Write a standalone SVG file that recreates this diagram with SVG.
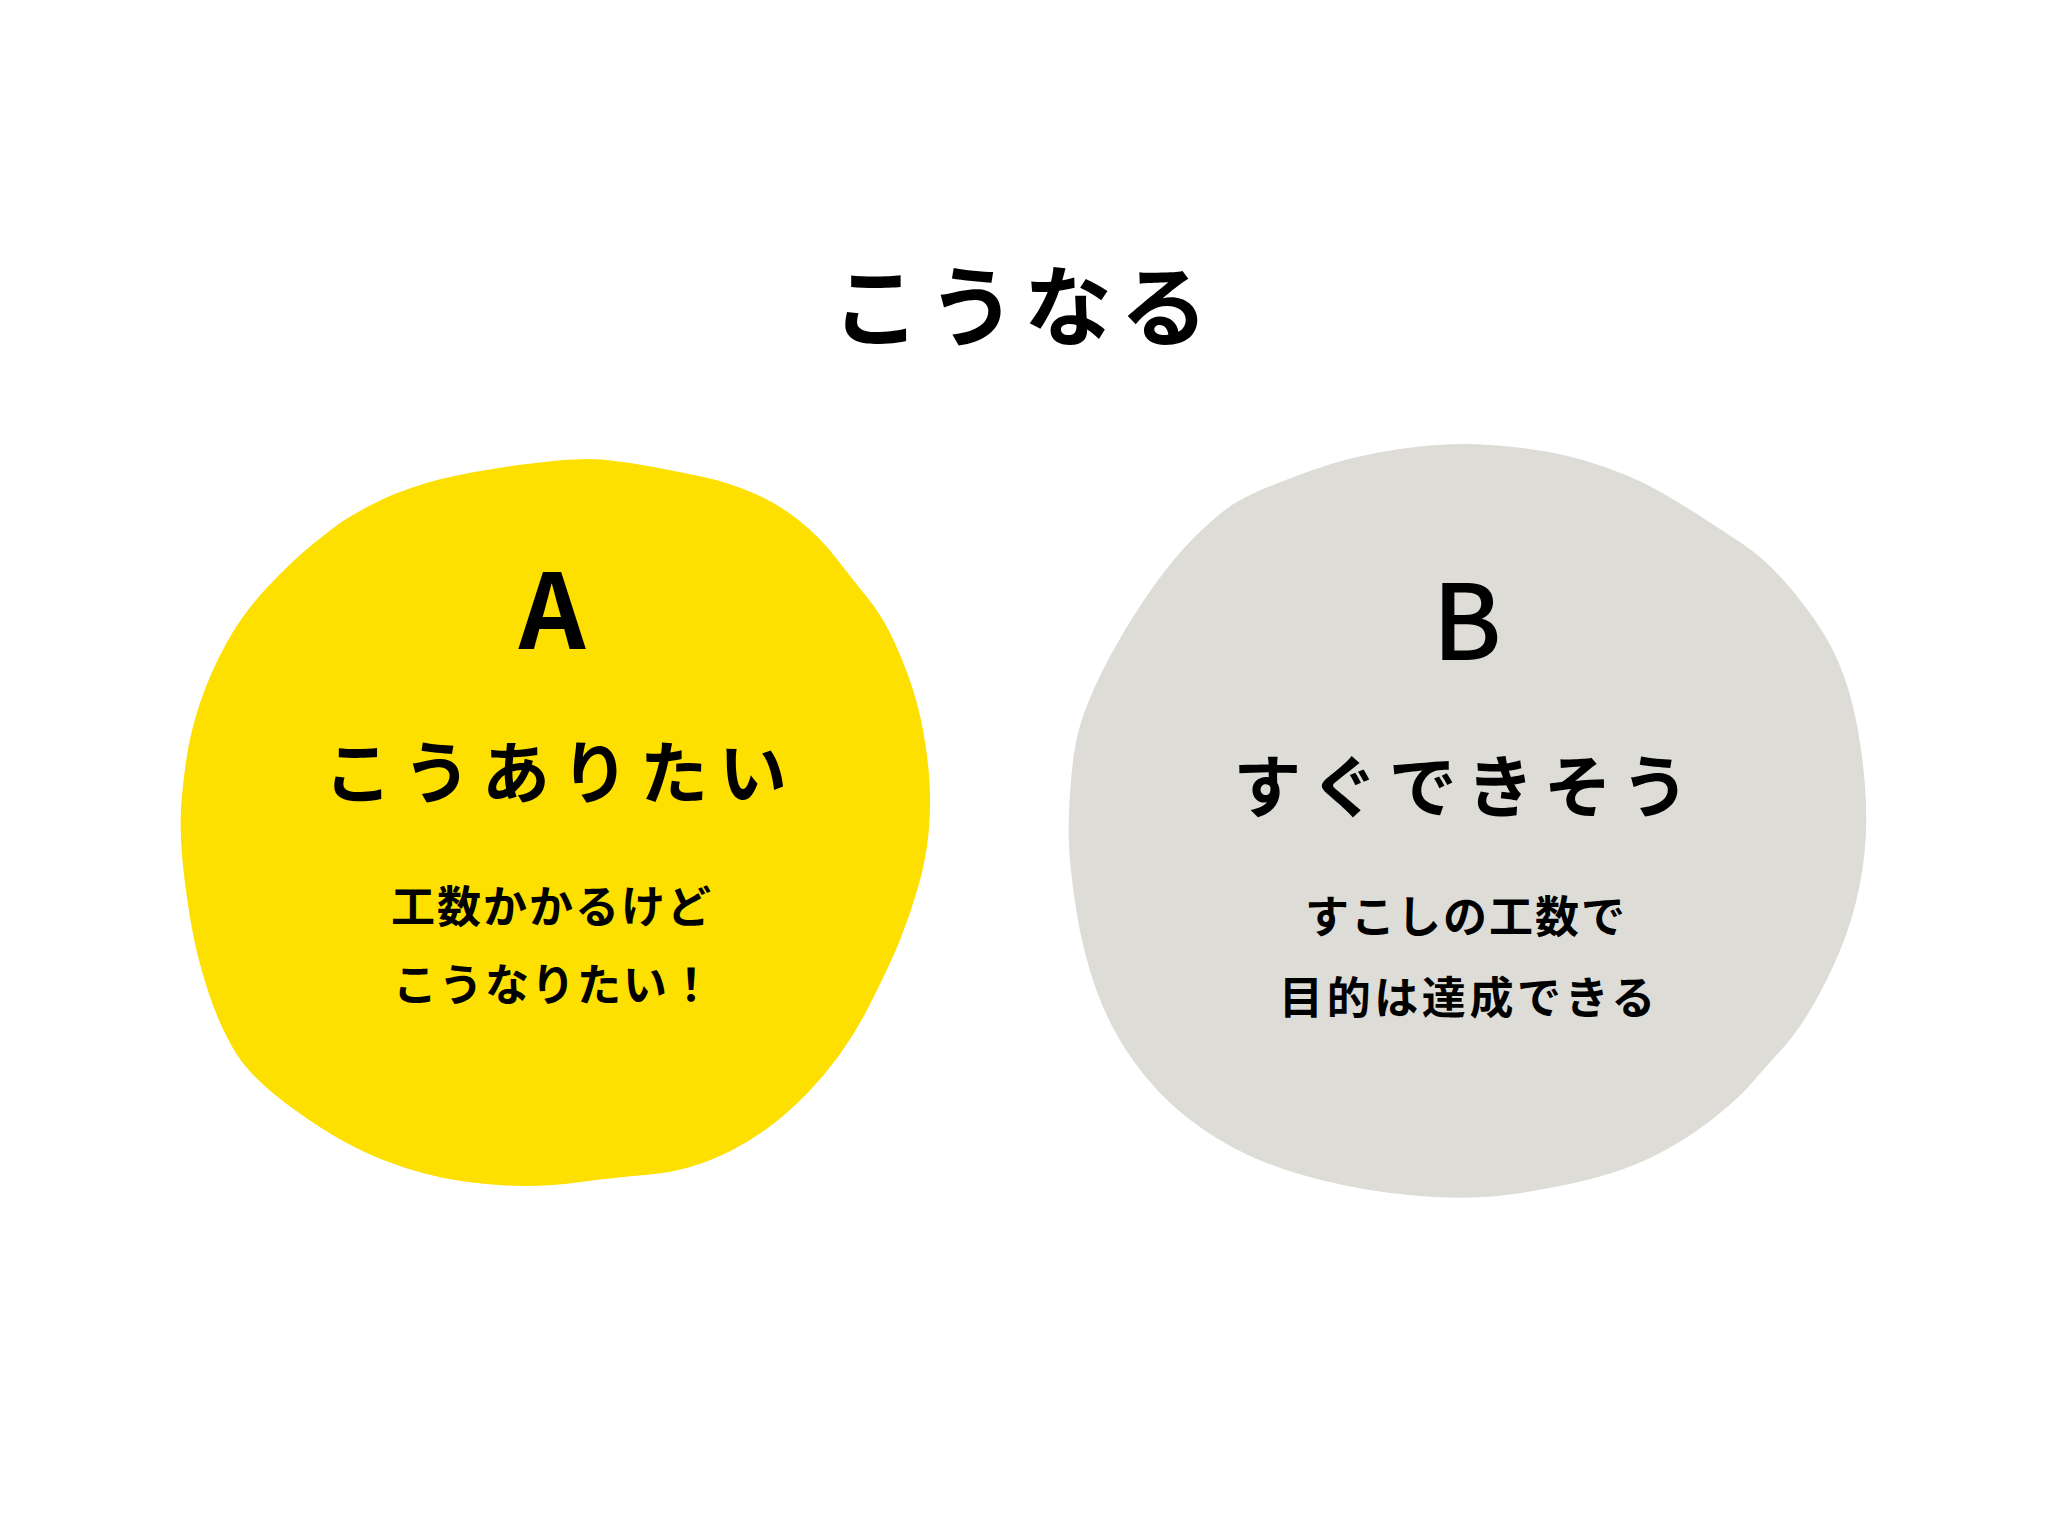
<svg xmlns="http://www.w3.org/2000/svg" width="2048" height="1536" viewBox="0 0 2048 1536">
<style>
text{font-family:"Noto Sans CJK JP","Noto Sans",sans-serif;font-weight:700;fill:#000;text-anchor:middle}
.title{font-size:88px;letter-spacing:8px}
.letter{font-size:104px}
.head{font-size:68px;letter-spacing:11px}
.sub{font-size:44px;letter-spacing:2px}
.yellow{fill:#FDDF00}
.gray{fill:#DDDCD7}
</style>
<rect width="2048" height="1536" fill="#FFFFFF"/>
<g id="title"><text class="title" x="1024" y="339">こうなる</text></g>
<g id="nodeA">
<path class="yellow" d="M602,459.5 Q627,462 653.5,467 Q680,472 703.5,477 Q727,482 752,492.5 Q777,503 798.5,520 Q820,537 836.5,558.5 Q853,580 866.5,596.5 Q880,613 890,633 Q900,653 909,678 Q918,703 923,730 Q928,757 929.5,782 Q931,807 928.5,833.5 Q926,860 918,887.5 Q910,915 900,940 Q890,965 867,1010 Q844,1055 808,1092.5 Q772,1130 731.5,1150.5 Q691,1171 650,1174.5 Q609,1178 581,1182 Q553,1186 525,1186 Q497,1186 461,1181 Q425,1176 384.5,1160.5 Q344,1145 299,1113 Q254,1081 237.5,1055.5 Q221,1030 208.5,992.5 Q196,955 190,917.5 Q184,880 182,855 Q180,830 181,810 Q182,790 186,761.5 Q190,733 200,703 Q210,673 226.5,643 Q243,613 268,586.5 Q293,560 313,544 Q333,528 340,523 Q347,518 370,505.5 Q393,493 426.5,483 Q460,473 518.5,465 Q577,457 602,459.5 Z"/>
<text class="letter" x="552" y="649">A</text>
<text class="head" x="561" y="798">こうありたい</text>
<text class="sub" x="552" y="923">工数かかるけど</text>
<text class="sub" x="554" y="1001">こうなりたい！</text>
</g>
<g id="nodeB">
<path class="gray" d="M1490,445 Q1530,448 1556.5,453.5 Q1583,459 1611.5,469.5 Q1640,480 1661.5,492.5 Q1683,505 1700,516 Q1717,527 1742,543.5 Q1767,560 1792,590 Q1817,620 1831,646.5 Q1845,673 1853,706.5 Q1861,740 1864.5,780 Q1868,820 1864.5,853.5 Q1861,887 1851,920 Q1841,953 1821.5,990 Q1802,1027 1782.5,1048.5 Q1763,1070 1750,1085 Q1737,1100 1710,1121 Q1683,1142 1650,1158 Q1617,1174 1567,1184.5 Q1517,1195 1483.5,1197 Q1450,1199 1408.5,1195 Q1367,1191 1325,1181 Q1283,1171 1250,1156 Q1217,1141 1187,1117.5 Q1157,1094 1133.5,1061 Q1110,1028 1096.5,990.5 Q1083,953 1076.5,911.5 Q1070,870 1069,845 Q1068,820 1070.5,786.5 Q1073,753 1078,733 Q1083,713 1095,686.5 Q1107,660 1125,630 Q1143,600 1163,573.5 Q1183,547 1205,527 Q1227,507 1238.5,501 Q1250,495 1258.5,491 Q1267,487 1308.5,471.5 Q1350,456 1400,449 Q1450,442 1490,445 Z"/>
<text class="letter" x="1467" y="660" style="font-weight:500">B</text>
<text class="head" x="1466" y="812" style="letter-spacing:9.5px">すぐできそう</text>
<text class="sub" x="1466" y="933">すこしの工数で</text>
<text class="sub" x="1469" y="1014" style="letter-spacing:3.6px">目的は達成できる</text>
</g>
<g id="connectors"></g>
</svg>
